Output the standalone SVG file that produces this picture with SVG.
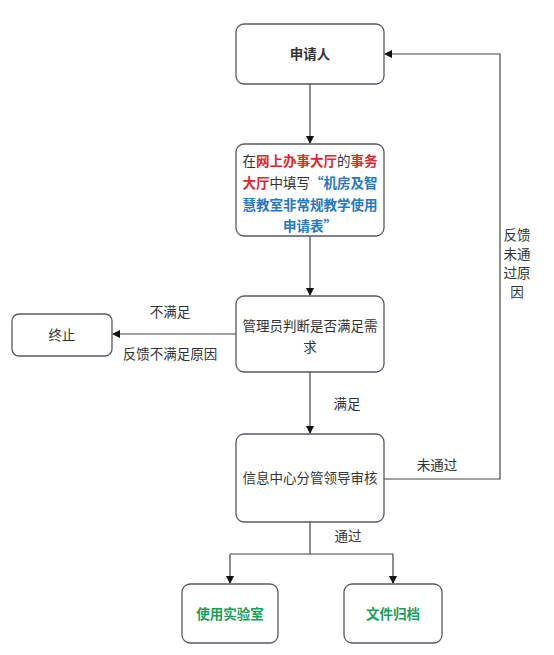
<svg xmlns="http://www.w3.org/2000/svg" width="554" height="655" viewBox="0 0 554 655">
<style>
.box{fill:#fff;stroke:#555a63;stroke-width:1.3}
.t{font-family:"Noto Sans CJK SC","Liberation Sans",sans-serif;font-size:13.5px;fill:#333;text-anchor:middle}
.b{font-weight:bold}
.red{fill:#e0262b;font-weight:bold}
.blue{fill:#2878c0;font-weight:bold}
.green{fill:#1a9e5a;font-weight:bold}
.ln{fill:none;stroke:#444;stroke-width:1.2}
</style>
<defs>
<marker id="ah" markerWidth="8" markerHeight="8" refX="7" refY="4" orient="auto" markerUnits="userSpaceOnUse">
<path d="M0,0 L8,4 L0,8 Z" fill="#111"/>
</marker>
</defs>
<rect width="554" height="655" fill="#fff"/>
<g id="connectors">
<path class="ln" d="M310,84 V143" marker-end="url(#ah)"/>
<path class="ln" d="M310,236 V295" marker-end="url(#ah)"/>
<path class="ln" d="M236,334 H113" marker-end="url(#ah)"/>
<path class="ln" d="M310,372 V433" marker-end="url(#ah)"/>
<path class="ln" d="M384,479 H500 V54 H385" marker-end="url(#ah)"/>
<path class="ln" d="M310,522 V554"/>
<path class="ln" d="M230,554 H393"/>
<path class="ln" d="M230,554 V583" marker-end="url(#ah)"/>
<path class="ln" d="M393,554 V583" marker-end="url(#ah)"/>
<text class="t" x="170" y="317">不满足</text>
<text class="t" x="170" y="359">反馈不满足原因</text>
<text class="t" x="347" y="409">满足</text>
<text class="t" x="437" y="470">未通过</text>
<text class="t" x="348" y="541">通过</text>
<text class="t" x="517" y="240">反馈</text>
<text class="t" x="517" y="259">未通</text>
<text class="t" x="517" y="278">过原</text>
<text class="t" x="517" y="297">因</text>
</g>
<g id="n1">
<rect class="box" x="236" y="24" width="148" height="60" rx="8"/>
<text class="t b" x="310" y="59" fill="#222">申请人</text>
</g>
<g id="n2">
<rect class="box" x="236" y="144" width="148" height="92" rx="8"/>
<text class="t" x="310" y="166"><tspan>在</tspan><tspan class="red">网上办事大厅</tspan><tspan>的</tspan><tspan class="red">事务</tspan></text>
<text class="t" x="310" y="188"><tspan class="red">大厅</tspan><tspan>中填写</tspan><tspan class="blue">“机房及智</tspan></text>
<text class="t blue" x="310" y="210">慧教室非常规教学使用</text>
<text class="t blue" x="310" y="231">申请表”</text>
</g>
<g id="n3">
<rect class="box" x="236" y="296" width="148" height="76" rx="8"/>
<text class="t" x="310" y="331">管理员判断是否满足需</text>
<text class="t" x="310" y="352">求</text>
</g>
<g id="n4">
<rect class="box" x="12" y="314" width="100" height="42" rx="7"/>
<text class="t" x="62" y="340">终止</text>
</g>
<g id="n5">
<rect class="box" x="236" y="434" width="148" height="88" rx="8"/>
<text class="t" x="310" y="483">信息中心分管领导审核</text>
</g>
<g id="n6">
<rect class="box" x="182" y="584" width="96" height="59" rx="8"/>
<text class="t green" x="230" y="619">使用实验室</text>
</g>
<g id="n7">
<rect class="box" x="344" y="584" width="98" height="59" rx="8"/>
<text class="t green" x="393" y="619">文件归档</text>
</g>
</svg>
